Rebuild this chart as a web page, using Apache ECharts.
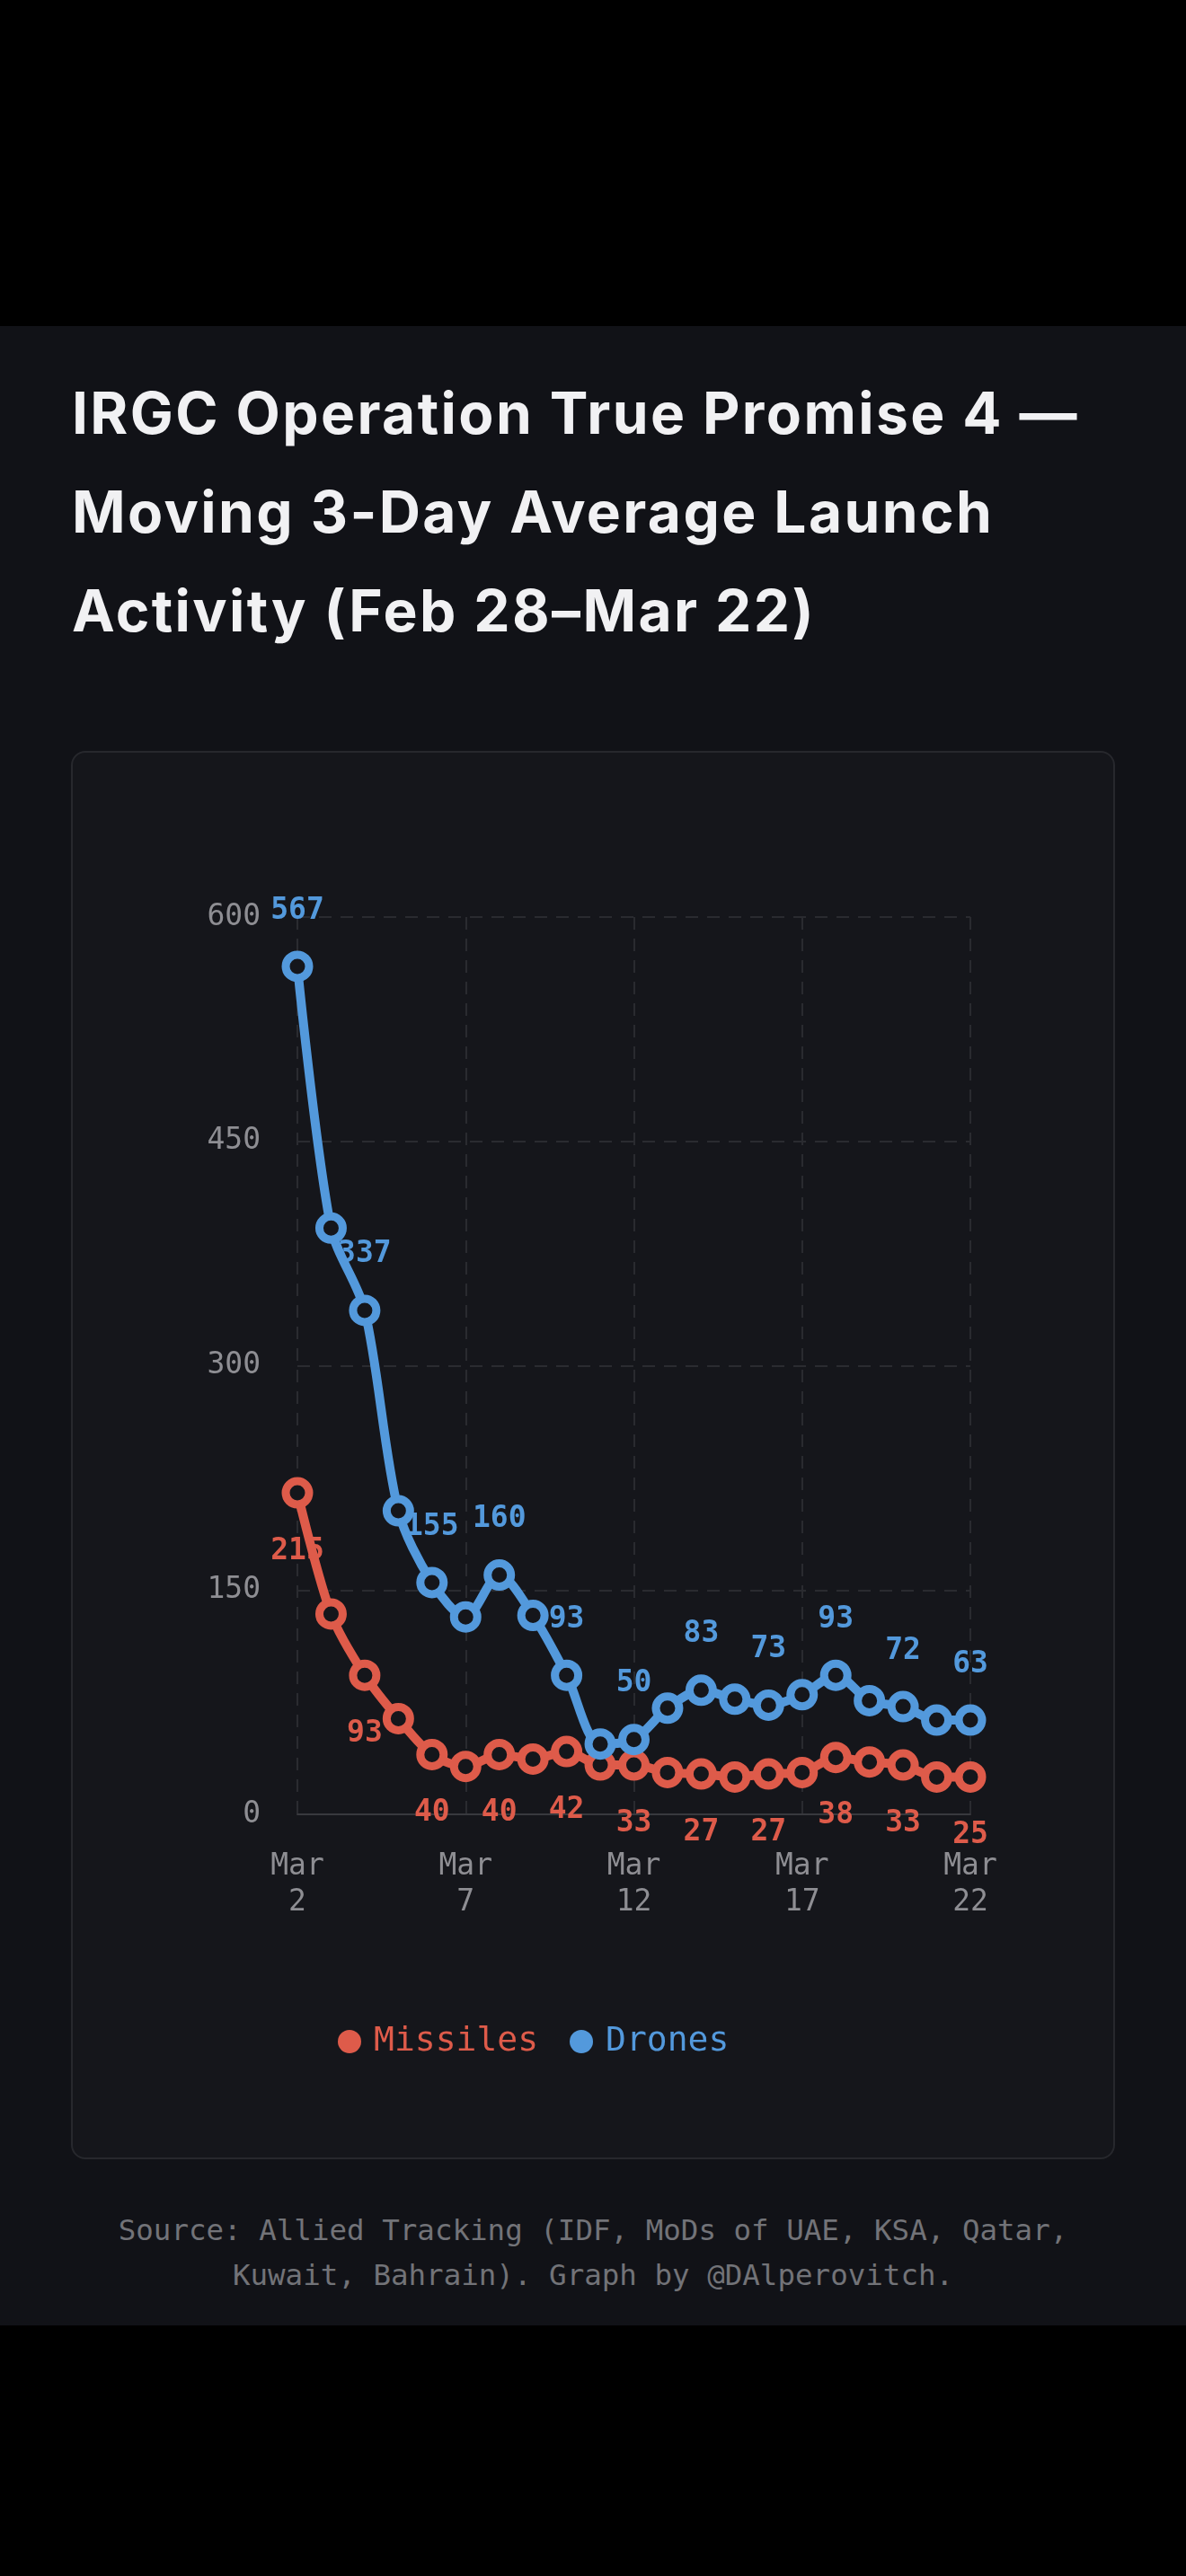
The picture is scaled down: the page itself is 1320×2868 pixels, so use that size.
<!DOCTYPE html>
<html>
<head>
<meta charset="utf-8">
<script src="https://cdn.jsdelivr.net/npm/echarts@6/dist/echarts.min.js"></script>
<style>
  html, body { margin: 0; padding: 0; background: #000; }
  body { width: 1320px; height: 2868px; position: relative; overflow: hidden; }
  .panel { position: absolute; left: 0; top: 363px; width: 1320px; height: 2226px; background: #111217; }
  .card {
    position: absolute; left: 79px; top: 836px; width: 1162px; height: 1568px;
    box-sizing: border-box; border: 2px solid #27282d; border-radius: 16px; background: #15161b;
  }
  .title {
    position: absolute; left: 80px; top: 405px; white-space: nowrap;
    font-family: Inter, "Noto Sans", sans-serif; font-weight: 700; font-size: 64px;
    letter-spacing: 2.4px; line-height: 110px; color: #f1f1f3;
  }
  .source {
    position: absolute; left: 0; top: 2458px; width: 1320px; text-align: center; white-space: nowrap;
    font-family: "DejaVu Sans Mono", monospace; font-size: 32.5px; line-height: 50px; color: #727378;
  }
  #chart { position: absolute; left: 0; top: 0; width: 1320px; height: 2868px; }
</style>
</head>
<body>
<div class="panel"></div>
<div class="card"></div>
<div class="title">IRGC Operation True Promise 4 —<br>Moving 3-Day Average Launch<br>Activity (Feb 28–Mar 22)</div>
<div class="source">Source: Allied Tracking (IDF, MoDs of UAE, KSA, Qatar,<br>Kuwait, Bahrain). Graph by @DAlperovitch.</div>
<div id="chart"></div>
<script>
// 3-day moving average, Mar 2 - Mar 22
const dates = ['Mar 2', 'Mar 3', 'Mar 4', 'Mar 5', 'Mar 6', 'Mar 7', 'Mar 8', 'Mar 9', 'Mar 10', 'Mar 11',
  'Mar 12', 'Mar 13', 'Mar 14', 'Mar 15', 'Mar 16', 'Mar 17', 'Mar 18', 'Mar 19', 'Mar 20', 'Mar 21', 'Mar 22']
const missiles = [215, 134, 93, 64, 40, 32, 40, 37, 42, 33, 33, 28, 27, 25, 27, 28, 38, 35, 33, 25, 25]
const drones = [567, 392, 337, 203, 155, 132, 160, 133, 93, 47, 50, 71, 83, 77, 73, 80, 93, 76, 72, 63, 63]
const yTicks = [0, 150, 300, 450, 600]

const RED = '#de5b4a'
const BLUE = '#5399dc'
const CARD_BG = '#15161b'
const MONO = '"DejaVu Sans Mono", monospace'

const chart = echarts.init(document.getElementById('chart'))

// only every other point gets a value label
function everyOther (p) {
  return p.dataIndex % 2 === 0 ? String(p.value) : ''
}

function lineSeries (name, data, color, labelPos, labelDist) {
  return {
    name: name,
    type: 'line',
    data: data,
    smooth: 0.3,
    symbol: 'circle',
    symbolSize: 26,
    showAllSymbol: true,
    lineStyle: { color: color, width: 10 },
    itemStyle: { color: CARD_BG, borderColor: color, borderWidth: 9 },
    label: {
      show: true,
      position: labelPos,
      distance: labelDist,
      formatter: everyOther,
      color: color,
      fontFamily: MONO,
      fontWeight: 'bold',
      fontSize: 33,
      lineHeight: 33
    },
    emphasis: { disabled: true }
  }
}

const option = {
  animation: false,
  textStyle: { fontFamily: MONO },
  grid: {
    left: 331,
    top: 1021,
    width: 749,
    height: 999,
    containLabel: false
  },
  legend: {
    left: 371,
    top: 2249,
    icon: 'circle',
    itemWidth: 26,
    itemHeight: 26,
    itemGap: 35,
    selectedMode: false,
    textStyle: { fontFamily: MONO, fontSize: 38, padding: [0, 0, 0, 9] },
    data: [
      { name: 'Missiles', itemStyle: { color: RED, borderWidth: 0 }, textStyle: { color: RED } },
      { name: 'Drones', itemStyle: { color: BLUE, borderWidth: 0 }, textStyle: { color: BLUE } }
    ]
  },
  xAxis: {
    type: 'category',
    data: dates,
    boundaryGap: false,
    axisTick: { show: false },
    axisLine: { lineStyle: { color: '#38393e', width: 2 } },
    axisLabel: {
      interval: 4,
      margin: 38,
      color: '#8e8e93',
      fontFamily: MONO,
      fontSize: 33,
      lineHeight: 40,
      formatter: v => v.replace(' ', '\n')
    },
    splitLine: {
      show: true,
      interval: 4,
      lineStyle: { color: '#2a2b30', width: 2, type: [14, 10] }
    }
  },
  yAxis: {
    type: 'value',
    min: yTicks[0],
    max: yTicks[yTicks.length - 1],
    interval: yTicks[1] - yTicks[0],
    axisLine: { show: false },
    axisTick: { show: false },
    axisLabel: {
      margin: 41,
      color: '#8e8e93',
      fontFamily: MONO,
      fontSize: 33
    },
    splitLine: {
      lineStyle: { color: '#2a2b30', width: 2, type: [14, 10] }
    }
  },
  series: [
    lineSeries('Missiles', missiles, RED, 'bottom', 31),
    lineSeries('Drones', drones, BLUE, 'top', 28)
  ]
}

chart.setOption(option)
</script>
</body>
</html>
